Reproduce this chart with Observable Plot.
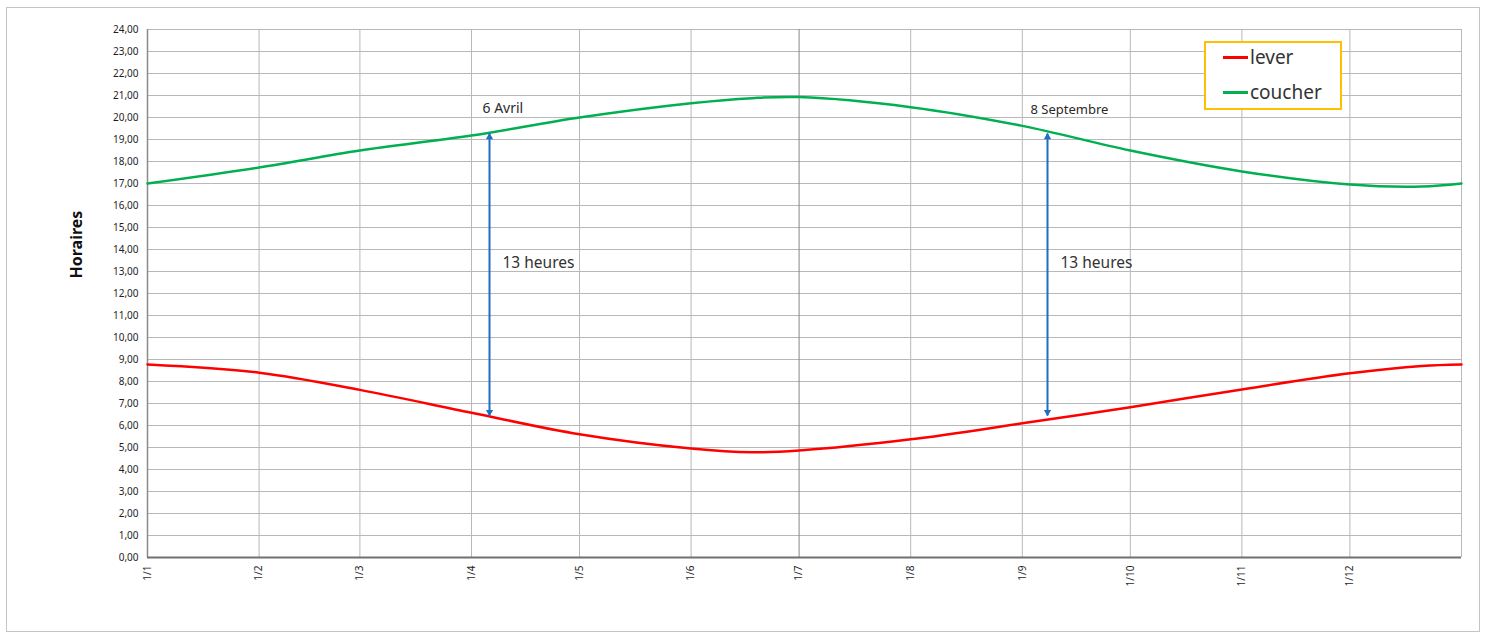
<!DOCTYPE html>
<html>
<head>
<meta charset="utf-8">
<script src="https://cdn.jsdelivr.net/npm/d3@7"></script>
<script src="https://cdn.jsdelivr.net/npm/@observablehq/plot@0.6"></script>
<style>
  body { margin: 0; background: #fff; }
  #wrap { position: relative; width: 1489px; height: 640px; font-family: "Noto Sans", sans-serif; }
  #border { position: absolute; left: 6px; top: 7px; width: 1474px; height: 625px; border: 1px solid #c4c4c4; box-sizing: border-box; }
  #chart { position: absolute; left: 0; top: 0; }
  #legend { position: absolute; left: 1204px; top: 41px; width: 138px; height: 69px; border: 2px solid #ffc000; box-sizing: border-box; background: #fff; }
  .item { position: absolute; left: 17px; height: 26px; display: flex; align-items: center; }
  .swatch { width: 25px; height: 3px; margin-right: 2px; }
  .lab { font-size: 19px; color: #333; font-family: "Noto Sans", sans-serif; }
</style>
</head>
<body>
<div id="wrap">
  <div id="border"></div>
  <div id="chart"></div>
  <div id="legend"></div>
</div>
<script>
// ---- data ----
const dates   = ["2023-01-01","2023-02-01","2023-03-01","2023-04-01","2023-05-01","2023-06-01","2023-06-18","2023-07-01","2023-08-01","2023-09-01","2023-10-01","2023-11-01","2023-12-01","2023-12-21","2024-01-01"];
const lever   = [8.77, 8.40, 7.62, 6.58, 5.60, 4.95, 4.78, 4.86, 5.37, 6.10, 6.83, 7.64, 8.37, 8.70, 8.77];
const coucher = [17.00, 17.73, 18.50, 19.18, 20.00, 20.65, 20.88, 20.93, 20.47, 19.62, 18.50, 17.55, 16.95, 16.86, 17.00];
const seriesNames  = ["lever", "coucher"];
const seriesColors = ["#ff0000", "#00b050"];
const hourTicks  = d3.range(0, 25);
const monthTicks = ["2023-01-01","2023-02-01","2023-03-01","2023-04-01","2023-05-01","2023-06-01","2023-07-01","2023-08-01","2023-09-01","2023-10-01","2023-11-01","2023-12-01"];
const xEnd = "2024-01-01";
const annotDates  = ["2023-04-06", "2023-09-08"];
const annotLabels = ["6 Avril", "8 Septembre"];
const annotTop    = [19.27, 19.27];
const annotBottom = [6.45, 6.45];
const durationLabels = ["13 heures", "13 heures"];

// ---- build tables ----
const P = s => new Date(s);
const leverData   = dates.map((d, i) => ({date: P(d), v: lever[i]}));
const coucherData = dates.map((d, i) => ({date: P(d), v: coucher[i]}));
const monthDates = monthTicks.map(P);
const gridX = monthDates.concat([P(xEnd)]);
const annots = annotDates.map((d, i) => ({date: P(d), label: annotLabels[i], top: annotTop[i], bottom: annotBottom[i], dur: durationLabels[i]}));

const fmtY = d => d.toFixed(2).replace(".", ",");
const fmtX = d => `1/${d.getUTCMonth() + 1}`;
const arrowColor = "#1f6fc5";

const chart = Plot.plot({
  width: 1489,
  height: 640,
  marginLeft: 147,
  marginRight: 28,
  marginTop: 29,
  marginBottom: 83,
  style: {fontFamily: "'Noto Sans', sans-serif", background: "transparent", overflow: "visible"},
  x: {type: "utc", domain: [P(dates[0]), P(xEnd)]},
  y: {domain: [0, 24]},
  marks: [
    Plot.ruleY(hourTicks, {stroke: "#b8b8b8", strokeWidth: 1}),
    Plot.ruleX(gridX, {stroke: d => (d.getUTCMonth() === 6 && d.getUTCFullYear() === 2023) ? "#888" : "#b8b8b8", strokeWidth: 1}),
    Plot.ruleX([P(dates[0])], {stroke: "#8a8a8a", strokeWidth: 1.5}),
    Plot.ruleY([0], {stroke: "#707070", strokeWidth: 2}),
    Plot.axisY({ticks: hourTicks, tickSize: 0, tickPadding: 9, tickFormat: fmtY, fontSize: 10, fill: "#1e1e2a", label: null}),
    Plot.axisX({ticks: monthDates, tickSize: 0, tickPadding: 8, tickRotate: -90, tickFormat: fmtX, fontSize: 10, fill: "#1e1e2a", label: null}),
    Plot.line(leverData,   {x: "date", y: "v", stroke: seriesColors[0], strokeWidth: 2.5, curve: "catmull-rom"}),
    Plot.line(coucherData, {x: "date", y: "v", stroke: seriesColors[1], strokeWidth: 2.5, curve: "catmull-rom"}),
    Plot.link(annots, {x1: "date", x2: "date", y1: "top", y2: "bottom", stroke: arrowColor, strokeWidth: 2}),
    Plot.dot(annots, {x: "date", y: "top", symbol: "triangle2", r: 3.5, fill: arrowColor, stroke: "none", dy: 3.5}),
    Plot.dot(annots, {x: "date", y: "bottom", symbol: "triangle2", r: 3.5, fill: arrowColor, stroke: "none", rotate: 180, dy: -3.5}),
    Plot.text(annots.slice(0, 1), {x: "date", y: "top", text: "label", dx: -7, dy: -25, textAnchor: "start", fontSize: 14, fill: "#2a2a2a"}),
    Plot.text(annots.slice(1, 2), {x: "date", y: "top", text: "label", dx: -17, dy: -24, textAnchor: "start", fontSize: 13, fill: "#2a2a2a"}),
    Plot.text(annots, {x: "date", y: d => (d.top + d.bottom) / 2, text: "dur", dx: 13, dy: -12, textAnchor: "start", fontSize: 15.5, fill: "#333"}),
    Plot.text(["Horaires"], {frameAnchor: "left", text: d => d, dx: -71, dy: -15, rotate: -90, fontSize: 16, fontWeight: "bold", fill: "#111"})
  ]
});
document.getElementById("chart").appendChild(chart);

// ---- legend ----
const legend = document.getElementById("legend");
seriesNames.forEach((name, i) => {
  const it = document.createElement("div");
  it.className = "item";
  it.style.top = (i === 0 ? 1 : 36) + "px";
  it.innerHTML = `<div class="swatch" style="background:${seriesColors[i]}"></div><span class="lab">${name}</span>`;
  legend.appendChild(it);
});
</script>
</body>
</html>
